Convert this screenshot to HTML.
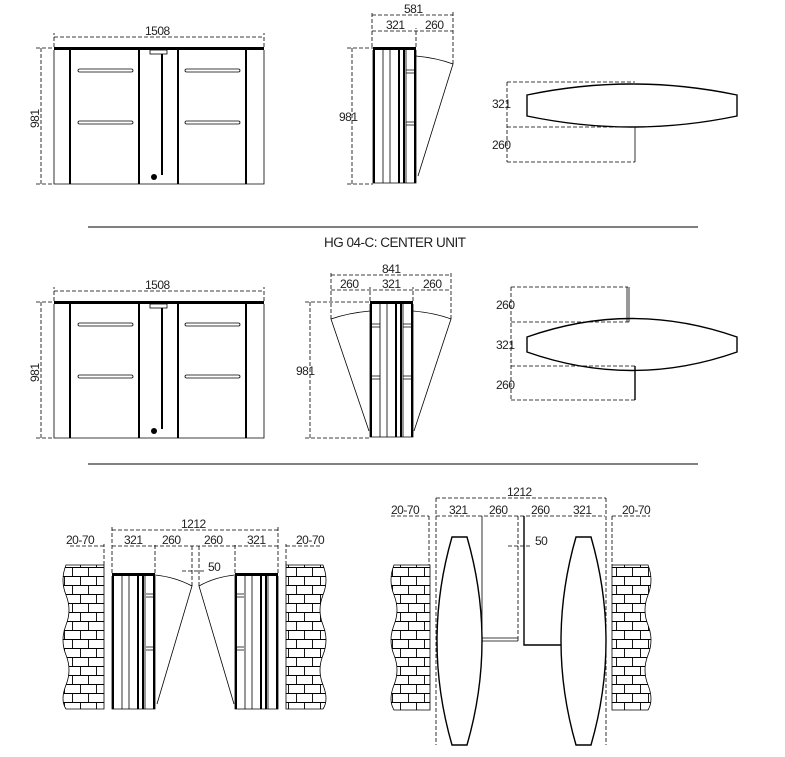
<!DOCTYPE html>
<html><head><meta charset="utf-8"><style>
html,body{margin:0;padding:0;background:#fff;}
svg{display:block}
text{font-family:"Liberation Sans",sans-serif;font-size:12px;fill:#222;letter-spacing:-0.5px}
.d{stroke:#000;stroke-width:0.8;stroke-dasharray:4 2;fill:none}
.t{stroke:#000;stroke-width:0.8;fill:none}
.k{stroke:#000;stroke-width:2;fill:none}
.m{stroke:#000;stroke-width:1.4;fill:none}
</style></head><body>
<svg width="785" height="757" viewBox="0 0 785 757" xmlns="http://www.w3.org/2000/svg">
<defs>
<pattern id="br" width="16" height="18" patternUnits="userSpaceOnUse">
<rect width="16" height="18" fill="#fff"/>
<path d="M0,0.5H16M0,9.5H16M0.5,0V9M8.5,9V18" stroke="#000" stroke-width="0.9" fill="none"/>
</pattern>
<g id="front">
<rect x="54" y="47" width="210" height="3" fill="#000"/>
<path class="t" d="M54,50V184H264V50"/>
<path class="k" d="M70,50V184M139,50V184M178,50V184M246,50V184"/>
<rect x="150" y="50" width="17" height="4" class="t"/>
<path class="k" d="M162,54V175"/>
<circle cx="154" cy="177" r="3" fill="#000"/>
<rect x="78" y="69" width="55" height="3" rx="1.5" class="t"/>
<rect x="78" y="121" width="55" height="3" rx="1.5" class="t" fill="#aaa"/>
<rect x="185" y="69" width="55" height="3" rx="1.5" class="t"/>
<rect x="185" y="121" width="55" height="3" rx="1.5" class="t" fill="#aaa"/>
<path class="d" d="M54,37H264M54,47V33M264,47V33M41,48V184M36,48H54M36,184H54"/>
</g>
<g id="post">
<rect x="0" y="0" width="43" height="3" fill="#000"/>
<path class="t" d="M0,3V136H43V3M10,3V136M17,3V136M33,3V136"/>
<path class="k" d="M1,3V136M26,3V136M31,3V136M42,3V136"/>
</g>
</defs>

<use href="#front"/>
<text x="145" y="35">1508</text>
<text x="0" y="0" transform="translate(39,128) rotate(-90)">981</text>

<use href="#front" y="254"/>
<text x="145" y="289">1508</text>
<text x="0" y="0" transform="translate(39,382) rotate(-90)">981</text>

<use href="#post" x="373" y="47"/>
<path class="t" d="M406,70h10M406,73h10M406,122h10M406,125h10"/>
<path class="t" d="M416,56 Q437,58 453,64 L418,176"/>
<path class="d" d="M372,15H453M372,31H453M372,47V12M416,47V28M453,64V12M352,48V184M347,48H373M347,184H373"/>
<text x="404" y="13">581</text>
<text x="386" y="29">321</text>
<text x="425" y="29">260</text>
<text x="339" y="121">981</text>

<use href="#post" x="370" y="301"/>
<path class="t" d="M403,324h10M403,327h10M403,376h10M403,379h10M371,324h9M371,327h9M371,376h9M371,379h9"/>
<path class="t" d="M370,311 Q348,313 331,319 L369,431 M413,311 Q435,313 451,319 L414,431"/>
<path class="d" d="M331,275H451M331,290H451M331,319V272M451,319V272M370,301V287M413,301V287M310,302V438M305,302H370M305,438H370"/>
<text x="382" y="273">841</text>
<text x="340" y="288">260</text>
<text x="382" y="288">321</text>
<text x="423" y="288">260</text>
<text x="296" y="375">981</text>

<path d="M88,227H698M88,464H698" stroke="#000" stroke-width="1"/>
<text x="324" y="247" style="font-size:13.5px">HG 04-C: CENTER UNIT</text>

<path class="m" d="M527,95 Q632,73 737,95 L737,116 Q632,138 527,116 Z"/>
<path class="d" d="M507,82H635M507,127H633M507,162H635M507,82V162"/>
<path class="t" d="M635,127V162"/>
<text x="492" y="108">321</text>
<text x="492" y="149">260</text>

<path class="m" d="M527,337 Q632,300 737,337 L737,352 Q632,389 527,352 Z"/>
<path class="d" d="M511,287H628M511,322H630M511,366H635M511,400H635M511,287V400"/>
<path class="t" d="M627,287V322M629,287V322"/>
<path class="m" d="M635,366V400"/>
<text x="496" y="309">260</text>
<text x="496" y="349">321</text>
<text x="496" y="389">260</text>

<path d="M104,565H66Q60,580 66,595Q72,610 66,625Q60,640 66,655Q72,670 66,685Q60,700 66,709H104Z" fill="url(#br)" stroke="#000" stroke-width="0.8"/>
<path d="M286,565H323Q329,580 323,595Q317,610 323,625Q329,640 323,655Q317,670 323,685Q329,700 323,709H286Z" fill="url(#br)" stroke="#000" stroke-width="0.8"/>
<use href="#post" x="112" y="573"/>
<path class="t" d="M146,594h9M146,597h9M146,647h9M146,650h9M235,594h9M235,597h9M235,647h9M235,650h9"/>
<use href="#post" x="235" y="573"/>
<path class="t" d="M155,575 Q175,577 192,586 L157,704 M235,575 Q215,577 199,586 L234,704"/>
<path class="d" d="M112,530H278M70,546H104M112,546H278M286,546H322M112,573V527M278,573V527M104,565V544M286,565V544M155,573V544M235,573V544M192,586V544M199,586V544M182,571H205"/>
<text x="181" y="528">1212</text>
<text x="66" y="544">20-70</text>
<text x="124" y="544">321</text>
<text x="162" y="544">260</text>
<text x="204" y="544">260</text>
<text x="247" y="544">321</text>
<text x="296" y="544">20-70</text>
<text x="208" y="571">50</text>

<path d="M430,565H394Q388,580 394,595Q400,610 394,625Q388,640 394,655Q400,670 394,685Q388,700 394,710H430Z" fill="url(#br)" stroke="#000" stroke-width="0.8"/>
<path d="M612,565H648Q654,580 648,595Q642,610 648,625Q654,640 648,655Q642,670 648,685Q654,700 648,710H612Z" fill="url(#br)" stroke="#000" stroke-width="0.8"/>
<path class="m" d="M452,537H467Q497,641 467,745H452Q422,641 452,537Z"/>
<path class="m" d="M576,537H591Q621,641 591,745H576Q546,641 576,537Z"/>
<path class="d" d="M436,498H606M391,516H429M436,516H605M612,516H650M436,498V745M606,498V745M429,516V565M612,516V565M518,516V638M524,516V645M508,546H530"/>
<path class="t" d="M482,516V640M482,638H518M482,641H518M518,638V641"/>
<path class="m" d="M524,516V645H561"/>
<text x="507" y="496">1212</text>
<text x="391" y="514">20-70</text>
<text x="449" y="514">321</text>
<text x="489" y="514">260</text>
<text x="531" y="514">260</text>
<text x="573" y="514">321</text>
<text x="622" y="514">20-70</text>
<text x="535" y="545">50</text>
</svg>
</body></html>
